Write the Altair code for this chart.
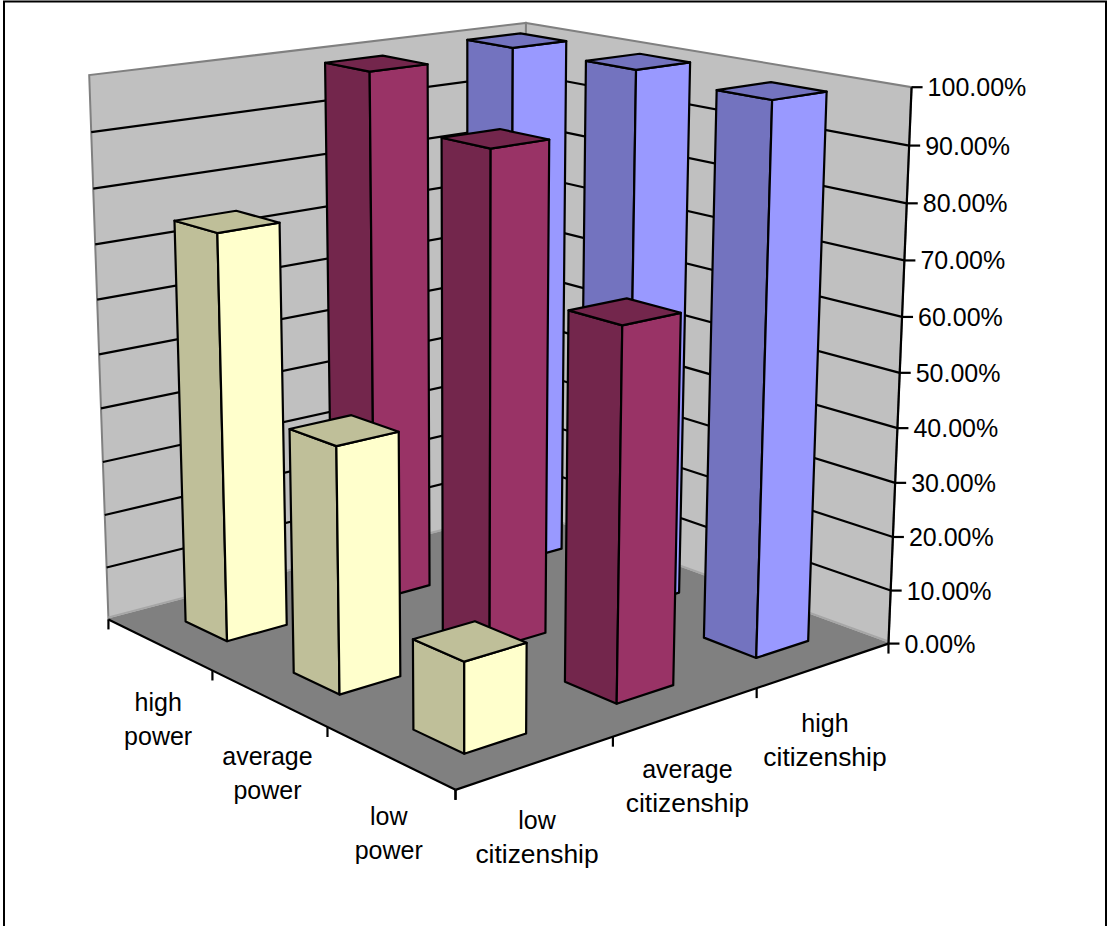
import altair as alt
import numpy as np

# Share of respondents by citizenship level (columns) and power level (rows)
citizenship = ["low\ncitizenship", "average\ncitizenship", "high\ncitizenship"]
power = ["low\npower", "average\npower", "high\npower"]
low_citizenship = [0.158, 0.44, 0.745]
average_citizenship = [0.657, 0.90, 0.99]
high_citizenship = [0.99, 1.00, 1.00]
tick_labels = ["0.00%", "10.00%", "20.00%", "30.00%", "40.00%", "50.00%",
               "60.00%", "70.00%", "80.00%", "90.00%", "100.00%"]

front_colors = ["#FFFFCC", "#993366", "#9999FF"]
side_colors = ["#BFBF99", "#73264C", "#7373BF"]

# Camera: (citizenship, power, share) -> page position, solved from known corners
scene = np.array([
    (0, 0, 0), (3, 0, 0), (0, 3, 0), (3, 3, 0), (3, 0, 1), (0, 3, 1), (3, 3, 1),
    (3, 0, .9), (3, 0, .1), (0, 3, .9), (1, 0, 0), (2, 0, 0), (0, 1, 0), (0, 2, 0),
], float)
page = np.array([
    (455, 790), (889, 645), (109, 620), (522, 510), (911, 87), (88, 74), (527, 23),
    (909, 146), (891, 590), (92, 133), (613, 735), (757, 688), (327, 728), (213, 670),
], float)
rows, rhs = [], []
for (a, b, c), (x, y) in zip(scene, page):
    rows.append([a, b, c, 1, 0, 0, 0, 0, -x * a, -x * b, -x * c])
    rhs.append(x)
    rows.append([0, 0, 0, 0, a, b, c, 1, -y * a, -y * b, -y * c])
    rhs.append(y)
camera = np.append(np.linalg.lstsq(np.array(rows), np.array(rhs), rcond=None)[0], 1).reshape(3, 4)


def project(c, p, z):
    u, v, w = camera @ np.array([c, p, z, 1.0])
    return [float(u / w), float(v / w)]


def polygon(corners, fill):
    ring = [project(*q) for q in corners]
    return {"type": "Feature", "properties": {"fill": fill},
            "geometry": {"type": "Polygon", "coordinates": [ring + ring[:1]]}}


def segment(a, b):
    return {"type": "Feature", "properties": {},
            "geometry": {"type": "LineString", "coordinates": [project(*a), project(*b)]}}


def page_line(*points):
    return {"type": "Feature", "properties": {},
            "geometry": {"type": "LineString", "coordinates": [list(q) for q in points]}}


pageview = dict(type="identity", scale=1, translate=[0, 0])


def shapes(features, **mark):
    return alt.Chart(alt.Data(values=features)).mark_geoshape(**mark).project(**pageview)


# Outer border of the chart area: open along the bottom edge
border = [page_line((4, 926), (4, 1.5), (1106, 1.5), (1106, 926))]

# Walls and floor
walls = [
    polygon([(0, 3, 0), (3, 3, 0), (3, 3, 1), (0, 3, 1)], "#C0C0C0"),
    polygon([(3, 3, 0), (3, 0, 0), (3, 0, 1), (3, 3, 1)], "#C0C0C0"),
]
floor = [polygon([(0, 0, 0), (3, 0, 0), (3, 3, 0), (0, 3, 0)], "#808080")]
seam = [segment((0, 3, 0.004), (3, 3, 0.004)), segment((3, 3, 0.004), (3, 0, 0.004))]
grid = []
for i in range(1, 10):
    z = i / 10
    grid.append(segment((0, 3, z), (3, 3, z)))
    grid.append(segment((3, 3, z), (3, 0, z)))

# Bars, furthest first so nearer ones paint over them
near, far = 0.305, 0.70
values = [low_citizenship, average_citizenship, high_citizenship]
cells = sorted(((c, p) for c in range(3) for p in range(3)), key=lambda t: -(t[0] + t[1]))
bars = []
for c, p in cells:
    z = values[c][p]
    c0, c1, p0, p1 = c + near, c + far, p + near, p + far
    bars.append(polygon([(c0, p0, 0), (c0, p1, 0), (c0, p1, z), (c0, p0, z)], side_colors[c]))
    bars.append(polygon([(c0, p0, 0), (c1, p0, 0), (c1, p0, z), (c0, p0, z)], front_colors[c]))
    bars.append(polygon([(c0, p0, z), (c1, p0, z), (c1, p1, z), (c0, p1, z)], side_colors[c]))

# Axis lines and ticks
axis_lines = [segment((0, 0, 0), (3, 0, 0)), segment((0, 0, 0), (0, 3, 0)), segment((3, 0, 0), (3, 0, 1))]
for k in range(4):
    for corner in [(k, 0, 0), (0, k, 0)]:
        x, y = project(*corner)
        axis_lines.append(page_line((x, y), (x, y + 10)))
tick_rows = []
for i, label in enumerate(tick_labels):
    x, y = project(3, 0, i / 10)
    axis_lines.append(page_line((x, y), (x + 11, y)))
    tick_rows.append({"lon": x + 16, "lat": y + 1, "text": label, "size": 25})

category_rows = []
for k, name in enumerate(citizenship):
    x, y = project(k + 0.5, 0, 0)
    for n, line in enumerate(name.split("\n")):
        category_rows.append({"lon": x + 1, "lat": y + 58.5 + 34 * n, "text": line,
                              "size": 26.4 if line == "citizenship" else 25})
for k, name in enumerate(power):
    x, y = project(0, k + 0.5, 0)
    for n, line in enumerate(name.split("\n")):
        category_rows.append({"lon": x - 1, "lat": y + 59 + 34 * n, "text": line, "size": 25})

font = dict(font="Liberation Sans", color="#000000", baseline="middle")
text_enc = dict(longitude="lon:Q", latitude="lat:Q", text="text:N",
                size=alt.Size("size:Q", scale=None, legend=None))
fill_enc = alt.Fill("properties.fill:N", scale=None, legend=None)
line_width = 2.2

chart = alt.layer(
    shapes(border, filled=False, stroke="#000000", strokeWidth=2, strokeJoin="miter"),
    shapes(walls, stroke="#808080", strokeWidth=2).encode(fill=fill_enc),
    shapes(grid, filled=False, stroke="#000000", strokeWidth=line_width),
    shapes(floor).encode(fill=fill_enc),
    shapes(seam, filled=False, stroke="#A6A6A6", strokeWidth=2),
    shapes(axis_lines, filled=False, stroke="#000000", strokeWidth=line_width),
    shapes(bars, stroke="#000000", strokeWidth=line_width, strokeJoin="round").encode(fill=fill_enc),
    alt.Chart(alt.Data(values=tick_rows)).mark_text(align="left", **font).encode(**text_enc).project(**pageview),
    alt.Chart(alt.Data(values=category_rows)).mark_text(align="center", **font).encode(**text_enc).project(**pageview),
).properties(
    width=1107, height=926, padding=0, autosize=alt.AutoSizeParams(type="none"),
    background="#FFFFFF",
).configure_view(stroke=None)

chart.save("out.html", embed_options={"renderer": "svg", "actions": False})
